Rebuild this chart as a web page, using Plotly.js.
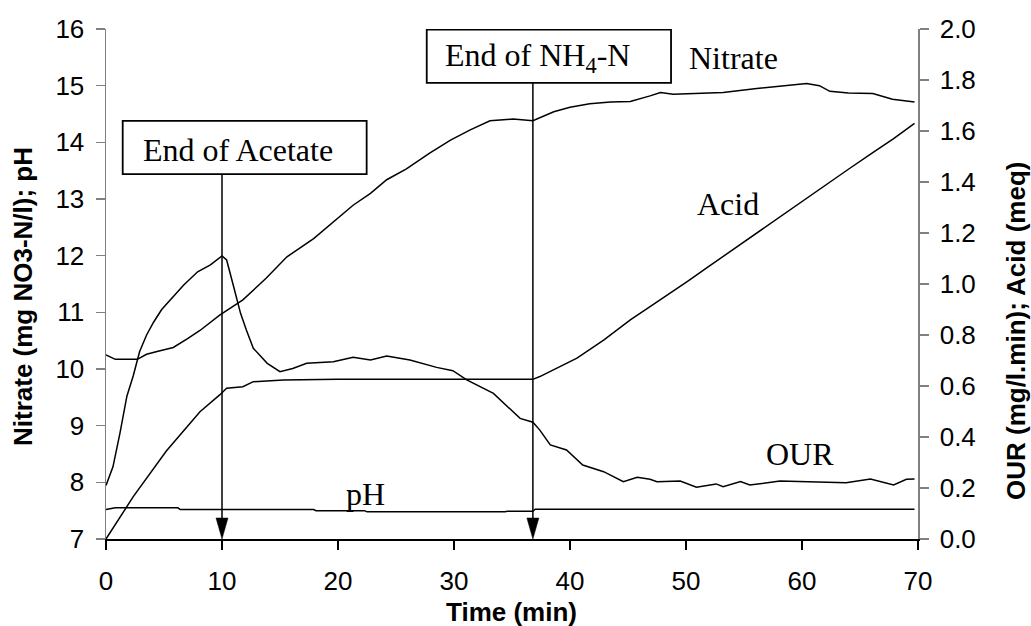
<!DOCTYPE html>
<html><head><meta charset="utf-8">
<script src="https://cdn.plot.ly/plotly-3.0.1.min.js"></script>
<style>html,body{margin:0;padding:0;background:#fff}#chart{width:1031px;height:626px}</style>
</head><body><div id="chart"></div>
<script>
// ---- data ----
const nitrateTime  = [0, 0.5, 0.8, 2.7, 3.5, 4.4, 5.8, 7, 8.1, 9.8, 11.8, 13.8, 15.6, 17.9, 19.6, 21.3, 22.8, 24.2, 25.9, 27.9, 29.7, 31.4, 33.1, 35.1, 36.8, 38.6, 40, 41.7, 43.5, 45.2, 46.9, 47.8, 48.9, 51, 53.2, 56.1, 59, 60.4, 61.5, 62.4, 64, 66.1, 67.8, 69.7];
const nitrateValue = [10.25, 10.2, 10.17, 10.17, 10.26, 10.31, 10.38, 10.53, 10.68, 10.95, 11.22, 11.6, 11.98, 12.3, 12.6, 12.89, 13.1, 13.34, 13.53, 13.81, 14.04, 14.22, 14.38, 14.41, 14.38, 14.54, 14.62, 14.68, 14.71, 14.72, 14.82, 14.88, 14.85, 14.86, 14.88, 14.95, 15.01, 15.04, 15.0, 14.9, 14.87, 14.86, 14.76, 14.71];

const phTime  = [0, 0.8, 6.2, 6.4, 17.9, 18.1, 22.3, 22.5, 34.4, 34.6, 36.8, 37, 69.7];
const phValue = [7.52, 7.55, 7.55, 7.52, 7.52, 7.5, 7.5, 7.48, 7.48, 7.49, 7.49, 7.525, 7.525];

const ourTime  = [0, 0.6, 1.2, 1.8, 2.35, 2.9, 3.5, 4.1, 4.8, 5.5, 6.7, 7.9, 9, 10, 10.4, 11, 11.6, 12.1, 12.7, 13.9, 15, 16.1, 17.3, 19.6, 21.3, 22.8, 24.2, 26.2, 28.5, 29.9, 31.1, 33.4, 35.7, 36.8, 37.4, 38.3, 39.7, 41.1, 42.9, 44.6, 45.8, 46.9, 47.5, 49.5, 50.9, 52.6, 53.2, 54.7, 55.5, 58.1, 61, 63.8, 65.9, 67.9, 69, 69.7];
const ourValue = [0.21, 0.283, 0.414, 0.56, 0.64, 0.735, 0.8, 0.85, 0.9, 0.937, 0.996, 1.048, 1.075, 1.11, 1.094, 0.99, 0.885, 0.82, 0.748, 0.689, 0.656, 0.669, 0.689, 0.695, 0.713, 0.702, 0.718, 0.702, 0.673, 0.66, 0.624, 0.571, 0.473, 0.458, 0.427, 0.369, 0.349, 0.29, 0.264, 0.225, 0.242, 0.234, 0.225, 0.227, 0.203, 0.216, 0.205, 0.225, 0.212, 0.227, 0.225, 0.221, 0.235, 0.212, 0.234, 0.235];

const acidTime  = [0, 2.35, 5.2, 8.1, 9.8, 10.4, 11.8, 12.7, 15.3, 20, 30, 36.8, 37.4, 38.8, 40.6, 42.9, 45.2, 46.9, 48, 50.1, 52, 55.2, 58, 61, 64, 66.1, 67.9, 69.7];
const acidValue = [0, 0.166, 0.345, 0.499, 0.565, 0.591, 0.597, 0.617, 0.624, 0.626, 0.626, 0.626, 0.637, 0.669, 0.709, 0.78, 0.859, 0.911, 0.944, 1.009, 1.07, 1.172, 1.26, 1.355, 1.45, 1.515, 1.57, 1.63];

const eventTimes  = [10, 36.8];
const eventLabels = ['End of Acetate', 'End of NH<sub>4</sub>-N'];
const seriesLabels = ['Nitrate', 'Acid', 'OUR', 'pH'];
const xTitle = 'Time (min)';
const yTitle = 'Nitrate (mg NO3-N/l); pH';
const y2Title = 'OUR (mg/l.min); Acid (meq)';

// ---- chart ----
const lineStyle = {color: '#000', width: 1.5};
const traces = [
  {x: nitrateTime, y: nitrateValue, yaxis: 'y', name: 'Nitrate'},
  {x: phTime, y: phValue, yaxis: 'y', name: 'pH'},
  {x: ourTime, y: ourValue, yaxis: 'y2', name: 'OUR'},
  {x: acidTime, y: acidValue, yaxis: 'y2', name: 'Acid'}
].map(t => Object.assign({type: 'scatter', mode: 'lines', line: lineStyle, hoverinfo: 'skip'}, t));

const sans = 'Liberation Sans, Arial, sans-serif';
const serif = 'Liberation Serif, Times New Roman, serif';
const tickFont = {family: sans, size: 26, color: '#000'};
const titleFont = {family: sans, size: 26, color: '#000', weight: 'bold'};
const labelFont = {family: serif, size: 32, color: '#000'};

const annotations = [
  // series labels
  {x: 54.1, y: 15.49, text: seriesLabels[0]},
  {x: 53.6, y: 12.91, text: seriesLabels[1]},
  {x: 59.8, y: 8.5, text: seriesLabels[2]},
  {x: 22.4, y: 7.79, text: seriesLabels[3]},
  // event box texts
  {x: 11.38, y: 13.87, text: eventLabels[0]},
  {x: 37.24, y: 15.5, text: eventLabels[1]}
].map(a => Object.assign({xref: 'x', yref: 'y', showarrow: false, font: labelFont, xanchor: 'center', yanchor: 'middle'}, a));

annotations.push(
  {xref: 'paper', yref: 'paper', x: 0.4988, y: -0.143, text: '<b>' + xTitle + '</b>', showarrow: false, font: titleFont, xanchor: 'center', yanchor: 'middle'},
  {xref: 'paper', yref: 'paper', x: -0.1022, y: 0.4745, text: '<b>' + yTitle + '</b>', showarrow: false, font: titleFont, textangle: -90, xanchor: 'center', yanchor: 'middle'},
  {xref: 'paper', yref: 'paper', x: 1.1207, y: 0.4078, text: '<b>' + y2Title + '</b>', showarrow: false, font: titleFont, textangle: -90, xanchor: 'center', yanchor: 'middle'}
);

const boxes = [
  {x0: 1.44, x1: 22.47, y0: 13.44, y1: 14.38},
  {x0: 27.65, x1: 48.71, y0: 15.05, y1: 15.99}
];
const shapes = [];
boxes.forEach((b, i) => {
  shapes.push({type: 'rect', xref: 'x', yref: 'y', x0: b.x0, x1: b.x1, y0: b.y0, y1: b.y1,
    line: {color: '#000', width: 1.8}, fillcolor: 'rgba(0,0,0,0)', layer: 'above'});
  shapes.push({type: 'line', xref: 'x', yref: 'y', x0: eventTimes[i], x1: eventTimes[i], y0: 7.3, y1: b.y0,
    line: {color: '#000', width: 1.5}, layer: 'above'});
  shapes.push({type: 'path', xref: 'x', yref: 'y', xsizemode: 'pixel', ysizemode: 'pixel',
    xanchor: eventTimes[i], yanchor: 7, path: 'M-6,21 L6,21 L0,0 Z',
    fillcolor: '#000', line: {color: '#000', width: 0.5}, layer: 'above'});
});

const layout = {
  width: 1031, height: 626,
  margin: {l: 106, r: 113, t: 29, b: 87, pad: 0},
  paper_bgcolor: '#fff', plot_bgcolor: '#fff',
  showlegend: false,
  xaxis: {range: [0, 70], tick0: 0, dtick: 10, ticks: 'outside', ticklen: 9, tickwidth: 1.5, tickcolor: '#000',
    showline: true, linecolor: '#000', linewidth: 1.5, showgrid: false, zeroline: false, tickfont: tickFont,
    ticklabelstandoff: 9},
  yaxis: {range: [7, 16], tick0: 7, dtick: 1, ticks: 'outside', ticklen: 9, tickwidth: 1.5, tickcolor: '#808080',
    showline: true, linecolor: '#808080', linewidth: 1.5, showgrid: false, zeroline: false, tickfont: tickFont,
    ticklabelstandoff: 6},
  yaxis2: {range: [0, 2], tick0: 0, dtick: 0.2, tickformat: '.1f', overlaying: 'y', side: 'right',
    ticks: 'outside', ticklen: 9, tickwidth: 1.5, tickcolor: '#808080',
    showline: true, linecolor: '#808080', linewidth: 1.5, showgrid: false, zeroline: false, tickfont: tickFont,
    ticklabelstandoff: 6},
  annotations: annotations,
  shapes: shapes
};

Plotly.newPlot('chart', traces, layout, {staticPlot: true, displayModeBar: false});
</script>
</body></html>
